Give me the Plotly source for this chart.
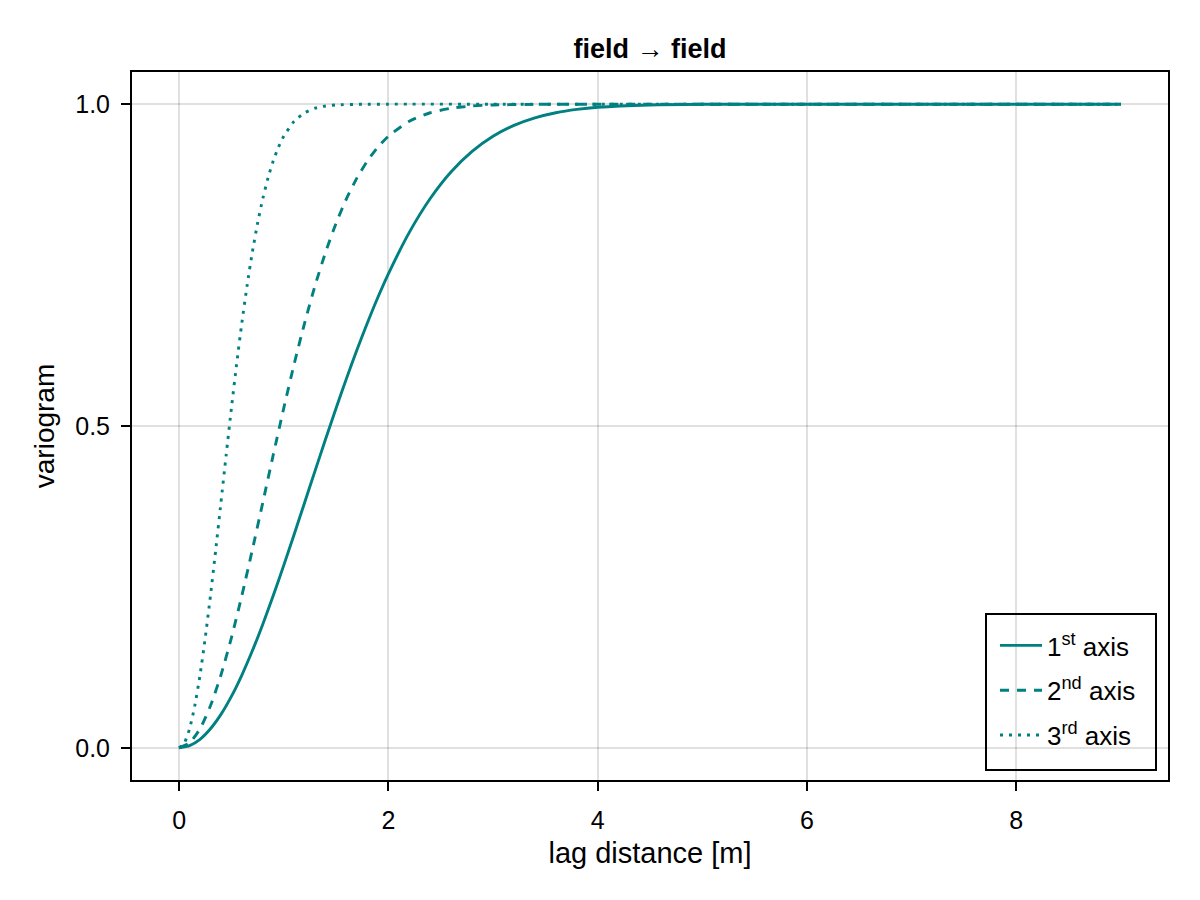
import plotly.graph_objects as go

# 1st axis (solid)
x1 = [0, 0.1, 0.2, 0.3, 0.4, 0.5, 0.6, 0.7, 0.8, 0.9, 1.0, 1.1, 1.2, 1.3, 1.4, 1.5, 1.6, 1.7, 1.8, 1.9,
      2.0, 2.2, 2.4, 2.6, 2.8, 3.0, 3.2, 3.4, 3.6, 3.8, 4.0, 4.5, 5.0, 6.0, 7.0, 8.0, 9.0]
y1 = [0, 0.0033, 0.0132, 0.0296, 0.0519, 0.0799, 0.1131, 0.1507, 0.1921, 0.2366, 0.2835, 0.3319, 0.3812,
      0.4307, 0.4797, 0.5276, 0.5740, 0.6184, 0.6604, 0.7000, 0.7364, 0.8008, 0.8534, 0.8950, 0.9267,
      0.9502, 0.9671, 0.9788, 0.9867, 0.9919, 0.9952, 0.9988, 0.9998, 1.0, 1.0, 1.0, 1.0]

# 2nd axis (dashed)
x2 = [0, 0.1, 0.2, 0.3, 0.4, 0.5, 0.6, 0.7, 0.8, 0.9, 1.0, 1.1, 1.2, 1.3, 1.4, 1.5, 1.6, 1.7, 1.8, 1.9,
      2.0, 2.2, 2.4, 2.6, 2.8, 3.0, 3.5, 4.0, 5.0, 6.0, 7.0, 8.0, 9.0]
y2 = [0, 0.0075, 0.0296, 0.0653, 0.1131, 0.1710, 0.2366, 0.3076, 0.3812, 0.4553, 0.5276, 0.5965, 0.6604,
      0.7185, 0.7701, 0.8150, 0.8534, 0.8855, 0.9120, 0.9333, 0.9502, 0.9735, 0.9867, 0.9937, 0.9972,
      0.9988, 0.9999, 1.0, 1.0, 1.0, 1.0, 1.0, 1.0]

# 3rd axis (dotted)
x3 = [0, 0.05, 0.1, 0.15, 0.2, 0.25, 0.3, 0.35, 0.4, 0.45, 0.5, 0.55, 0.6, 0.65, 0.7, 0.75, 0.8, 0.85,
      0.9, 0.95, 1.0, 1.1, 1.2, 1.3, 1.4, 1.5, 1.75, 2.0, 3.0, 4.0, 5.0, 6.0, 7.0, 8.0, 9.0]
y3 = [0, 0.0075, 0.0296, 0.0653, 0.1131, 0.1710, 0.2366, 0.3076, 0.3812, 0.4553, 0.5276, 0.5965, 0.6604,
      0.7185, 0.7701, 0.8150, 0.8534, 0.8855, 0.9120, 0.9333, 0.9502, 0.9735, 0.9867, 0.9937, 0.9972,
      0.9988, 0.9999, 1.0, 1.0, 1.0, 1.0, 1.0, 1.0, 1.0, 1.0]

names = ["1<sup>st</sup> axis", "2<sup>nd</sup> axis", "3<sup>rd</sup> axis"]
dashes = ["solid", "9px,8px", "3px,6px"]
color = "#008080"
FONT = "Liberation Sans, Arial, sans-serif"

fig = go.Figure()
for i, (xs, ys, nm, ds) in enumerate(zip([x1, x2, x3], [y1, y2, y3], names, dashes)):
    fig.add_trace(go.Scatter(x=xs, y=ys, mode="lines", name=nm, legendgroup=f"g{i}",
                             line=dict(color=color, width=2.9, dash=ds, shape="spline", smoothing=0.6)))

axis_common = dict(
    showline=True, linecolor="black", linewidth=2, mirror=True,
    showgrid=True, gridcolor="rgba(0,0,0,0.12)", gridwidth=1.5,
    zeroline=False, ticks="outside", ticklen=9, tickwidth=1.5, tickcolor="black",
    tickfont=dict(family=FONT, size=25, color="black"),
)

fig.update_layout(
    width=1200, height=900,
    paper_bgcolor="white", plot_bgcolor="white",
    margin=dict(l=132, r=32, t=72, b=120),
    font=dict(family=FONT, size=25, color="black"),
    title=dict(text="<b>field → field</b>", x=0.5417, xanchor="center", y=0.946, yanchor="middle",
               font=dict(family=FONT, size=27, color="black")),
    xaxis=dict(range=[-0.45, 9.45], tickvals=[0, 2, 4, 6, 8], ticklabelstandoff=8,
               title=dict(text="lag distance [m]", font=dict(family=FONT, size=29), standoff=10),
               **axis_common),
    yaxis=dict(range=[-0.05, 1.05], tickvals=[0, 0.5, 1.0], tickformat=".1f", ticklabelstandoff=6,
               title=dict(text="variogram", font=dict(family=FONT, size=28), standoff=12),
               **axis_common),
    legend=dict(x=(1000 - 5 - 132) / 1036, xanchor="left", y=(780 - 759) / 708, yanchor="bottom",
                bgcolor="rgba(0,0,0,0)", borderwidth=0, itemwidth=42,
                font=dict(family=FONT, size=26), tracegroupgap=8),
    shapes=[dict(type="rect", xref="paper", yref="paper",
                 x0=(986 - 132) / 1036, x1=(1156 - 132) / 1036,
                 y0=(780 - 770) / 708, y1=(780 - 614) / 708,
                 fillcolor="white", line=dict(color="black", width=2), layer="between")],
    showlegend=True,
)

fig.write_html("out.html")
